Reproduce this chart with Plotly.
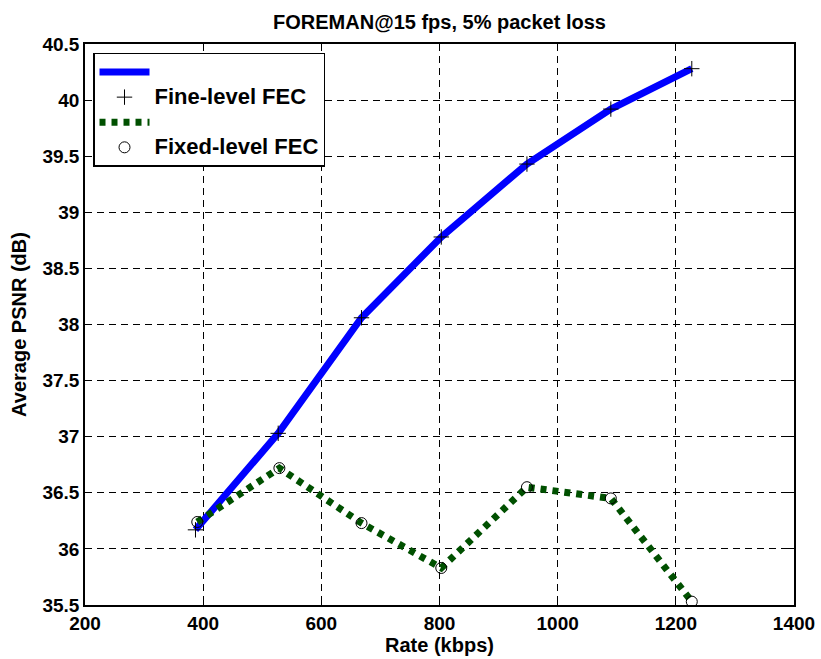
import plotly.graph_objects as go

rate_fine = [387, 527, 668, 803, 948, 1090, 1227]
psnr_fine = [36.17, 37.03, 38.06, 38.78, 39.43, 39.92, 40.28]
rate_fixed = [390, 529, 668, 803, 948, 1090, 1227]
psnr_fixed = [36.24, 36.72, 36.23, 35.83, 36.55, 36.45, 35.53]

x_ticks = [200, 400, 600, 800, 1000, 1200, 1400]
y_ticks = [35.5, 36, 36.5, 37, 37.5, 38, 38.5, 39, 39.5, 40, 40.5]

FONT = "Liberation Sans"


def leg(txt):
    return f"<span style='font-size:22px'><b>{txt}</b></span>"


fig = go.Figure()
fig.add_trace(go.Scatter(x=rate_fine, y=psnr_fine, mode="lines", name=" ",
                         line=dict(color="#0000ff", width=7)))
fig.add_trace(go.Scatter(x=rate_fine, y=psnr_fine, mode="markers", name=leg("Fine-level FEC"),
                         marker=dict(symbol="cross-thin", size=11, color="black",
                                     line=dict(color="black", width=1))))
fig.add_trace(go.Scatter(x=rate_fixed, y=psnr_fixed, mode="lines", name="  ",
                         line=dict(color="#005000", width=7, dash="6px,6px")))
fig.add_trace(go.Scatter(x=rate_fixed, y=psnr_fixed, mode="markers", name=leg("Fixed-level FEC"),
                         marker=dict(symbol="circle-open", size=11, color="black",
                                     line=dict(color="black", width=1))))

axis_common = dict(showline=True, linecolor="black", linewidth=1.5, mirror="ticks",
                   ticks="inside", ticklen=6, tickcolor="black",
                   showgrid=True, gridcolor="black", gridwidth=1, griddash="7px,5px",
                   zeroline=False,
                   tickfont=dict(family=FONT, size=19, color="black"))

fig.update_xaxes(range=[200, 1400], tickvals=x_ticks,
                 ticktext=[f"<b>{v:g}</b>" for v in x_ticks],
                 title=dict(text="<b>Rate (kbps)</b>", standoff=4,
                            font=dict(family=FONT, size=20, color="black")),
                 automargin=False, **axis_common)
fig.update_yaxes(range=[35.5, 40.5], tickvals=y_ticks,
                 ticktext=[f"<b>{v:g}</b>" for v in y_ticks],
                 title=dict(text="<b>Average PSNR (dB)</b>", standoff=10,
                            font=dict(family=FONT, size=20, color="black")),
                 automargin=False, **axis_common)

fig.update_layout(
    width=821, height=659,
    margin=dict(l=85, r=27, t=44, b=54),
    paper_bgcolor="white", plot_bgcolor="white",
    title=dict(text="<b>FOREMAN@15 fps, 5% packet loss</b>", x=(85 + 794) / 2 / 821,
               xanchor="center", y=1 - 22 / 659, yanchor="middle",
               font=dict(family=FONT, size=20, color="black")),
    legend=dict(x=0.0113, y=0.984, xanchor="left", yanchor="top",
                bgcolor="white", bordercolor="black", borderwidth=1.5,
                font=dict(family=FONT, size=17, color="black"),
                tracegroupgap=0, itemwidth=50),
    showlegend=True,
)

fig.write_html("out.html")
